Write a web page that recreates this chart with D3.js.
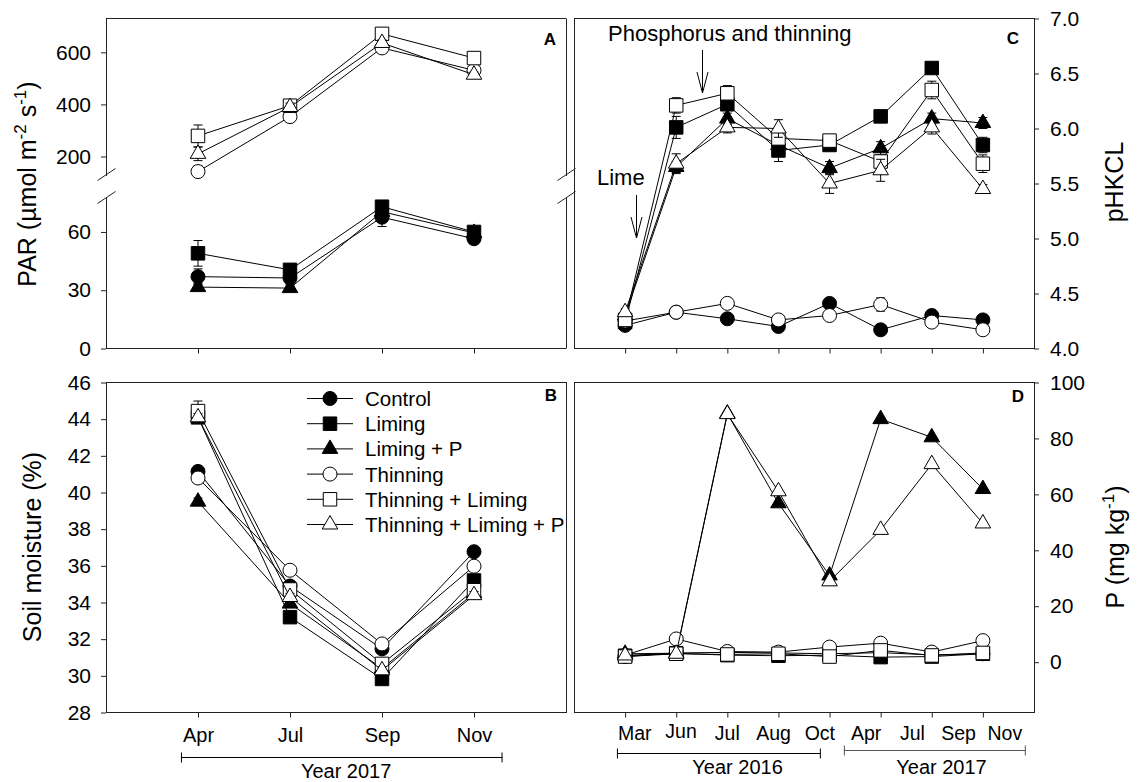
<!DOCTYPE html>
<html><head><meta charset="utf-8">
<script src="https://cdn.jsdelivr.net/npm/d3@7"></script>
<style>
body{margin:0;background:#fff;}
svg text{font-family:"Liberation Sans",Arial,Helvetica,sans-serif;fill:#000;}
</style></head><body>
<svg id="chart" width="1137" height="782"></svg>
<script>
// ---- Treatments (legend order = drawing order) ----
const treatments = ["Control", "Liming", "Liming + P", "Thinning", "Thinning + Liming", "Thinning + Liming + P"];

// ---- Panel A: PAR (µmol m-2 s-1), 2017 ----
const monthsAB = ["Apr", "Jul", "Sep", "Nov"];
const parControl   = [37, 36.3, 67.6, 56.5];
const parLiming    = [49, 40.5, 73, 60];
const parLimingP   = [31.6, 31.1, 70.4, 59.5];
const parThinning  = [142, 353, 617, 531];
const parThinLime  = [279, 395, 671, 578];
const parThinLimeP = [210, 390, 636, 514];
const parControlErr   = [4, 3, 4.8, 1.5];
const parLimingErr    = [6.6, 3, 2, 2];
const parLimingPErr   = [2, 1.5, 2, 3];
const parThinningErr  = [22, 12, 10, 8];
const parThinLimeErr  = [42, 15, 10, 8];
const parThinLimePErr = [26, 15, 12, 10];

// ---- Panel B: soil moisture (%), 2017 ----
const smControl   = [41.15, 34.9, 31.47, 36.77];
const smLiming    = [44.1, 33.2, 29.83, 35.2];
const smLimingP   = [39.5, 33.94, 30.4, 34.5];
const smThinning  = [40.79, 35.76, 31.74, 35.98];
const smThinLime  = [44.44, 34.71, 30.65, 34.67];
const smThinLimeP = [44.1, 34.3, 30.3, 34.4];
const smErr       = [0.2, 0.2, 0.2, 0.2];
const smThinLimeErr = [0.55, 0.2, 0.2, 0.2];

// ---- Panel C: soil pH(KCl), Mar 2016 - Nov 2017 ----
const phControl   = [4.21, 4.33, 4.27, 4.20, 4.41, 4.17, 4.30, 4.26];
const phLiming    = [4.24, 6.01, 6.22, 5.80, 5.85, 6.11, 6.55, 5.85];
const phLimingP   = [4.30, 5.65, 6.09, 5.85, 5.64, 5.82, 6.09, 6.05];
const phThinning  = [4.25, 4.33, 4.41, 4.26, 4.30, 4.40, 4.24, 4.17];
const phThinLime  = [4.26, 6.21, 6.32, 5.91, 5.89, 5.70, 6.35, 5.68];
const phThinLimeP = [4.33, 5.68, 6.01, 6.00, 5.50, 5.62, 6.01, 5.45];
const phControlErr   = [0.03, 0.02, 0.03, 0.04, 0.03, 0.02, 0.03, 0.03];
const phLimingErr    = [0.03, 0.10, 0.05, 0.10, 0.05, 0.04, 0.04, 0.07];
const phLimingPErr   = [0.03, 0.05, 0.05, 0.05, 0.06, 0.06, 0.05, 0.05];
const phThinningErr  = [0.03, 0.02, 0.03, 0.03, 0.03, 0.06, 0.03, 0.03];
const phThinLimeErr  = [0.04, 0.07, 0.07, 0.05, 0.04, 0.05, 0.08, 0.08];
const phThinLimePErr = [0.03, 0.09, 0.05, 0.08, 0.09, 0.10, 0.06, 0.04];

// ---- Panel D: available P (mg kg-1) ----
const pControl   = [2.0, 3.3, 3.5, 3.3, 3.0, 3.4, 2.6, 3.0];
const pLiming    = [2.3, 3.2, 2.5, 2.3, 2.5, 1.8, 2.0, 3.0];
const pLimingP   = [3.0, 3.2, 88.9, 56.8, 31.0, 86.9, 80.4, 61.9];
const pThinning  = [2.5, 8.3, 3.8, 3.6, 5.4, 6.8, 3.6, 7.7];
const pThinLime  = [2.0, 3.0, 2.75, 3.0, 2.0, 4.2, 2.4, 3.3];
const pThinLimeP = [2.4, 3.0, 88.7, 61.1, 28.9, 47.3, 70.8, 49.6];

// ---- Axis tick values and labels ----
const parTicksHigh = [200, 400, 600];
const parTicksLow  = [0, 30, 60];
const smTicks = [28, 30, 32, 34, 36, 38, 40, 42, 44, 46];
const phTicks = [4.0, 4.5, 5.0, 5.5, 6.0, 6.5, 7.0];
const pTicks  = [0, 20, 40, 60, 80, 100];
const monthsCD = ["Mar", "Jun", "Jul", "Aug", "Oct", "Apr", "Jul", "Sep", "Nov"];
const yearLabels = ["Year 2016", "Year 2017"];
const annotations = ["Phosphorus and thinning", "Lime"];

// ---- Marker styles ----
const shapes = [d3.symbolCircle, d3.symbolSquare, d3.symbolTriangle, d3.symbolCircle, d3.symbolSquare, d3.symbolTriangle];
const shapeSize = [154, 182, 105, 154, 182, 105];
const filled = [true, true, true, false, false, false];

const svg = d3.select("#chart");
const FONT_TICK = 21;

// Panel geometry
const xAB = d3.scaleLinear([0, 5], [106, 566]);
const xCD = d3.scaleLinear([0, 9], [574, 1034]);
const TOP = [18.5, 348.5], BOT = [382.5, 712.5];
const yAhigh = d3.scaleLinear([125, 730], [176, TOP[0]]).clamp(true);
const yAlow  = d3.scaleLinear([0, 78], [TOP[1], 197]).clamp(true);
const yB = d3.scaleLinear([28, 46], [BOT[1], BOT[0]]);
const yC = d3.scaleLinear([4, 7], [TOP[1], TOP[0]]);
const yD = d3.scaleLinear([-18, 100], [BOT[1], BOT[0]]);

function marker(sel, i) {
  sel.attr("d", d3.symbol(shapes[i], shapeSize[i])())
    .attr("fill", filled[i] ? "#000" : "#fff")
    .attr("stroke", "#000").attr("stroke-width", 1);
}

function drawSeries(g, x, y, values, errs, i) {
  const pts = values.map((v, k) => ({k: k + 1, v, e: errs ? errs[k] : 0}));
  const s = g.append("g");
  s.append("path").datum(pts)
    .attr("d", d3.line().x(d => x(d.k)).y(d => y(d.v)))
    .attr("fill", "none").attr("stroke", "#000").attr("stroke-width", 1);
  const eb = s.selectAll("g.err").data(pts.filter(d => d.e > 0)).join("g")
    .attr("stroke", "#000").attr("stroke-width", 1);
  eb.append("line").attr("x1", d => x(d.k)).attr("x2", d => x(d.k))
    .attr("y1", d => y(d.v - d.e)).attr("y2", d => y(d.v + d.e));
  eb.append("line").attr("x1", d => x(d.k) - 4.5).attr("x2", d => x(d.k) + 4.5)
    .attr("y1", d => y(d.v + d.e)).attr("y2", d => y(d.v + d.e));
  eb.append("line").attr("x1", d => x(d.k) - 4.5).attr("x2", d => x(d.k) + 4.5)
    .attr("y1", d => y(d.v - d.e)).attr("y2", d => y(d.v - d.e));
  s.selectAll("path.m").data(pts).join("path").attr("class", "m")
    .attr("transform", d => `translate(${x(d.k)},${y(d.v)})`)
    .call(marker, i);
}

function styleAxis(g, size) {
  g.select(".domain").remove();
  g.selectAll(".tick line").attr("stroke", "#222");
  g.selectAll(".tick text").attr("font-size", size)
    .attr("font-family", '"Liberation Sans",Arial,sans-serif').attr("fill", "#000");
}

function frame(x0, x1, y0, y1) {
  svg.append("rect").attr("x", x0 + 0.5).attr("y", y0).attr("width", x1 - x0).attr("height", y1 - y0)
    .attr("fill", "none").attr("stroke", "#222").attr("stroke-width", 1);
}

// ---------- Panel A (broken axis) ----------
{
  const x0 = 106, x1 = 566;
  const gA = svg.append("g");
  // frame with gaps at the break
  const fr = gA.append("g").attr("stroke", "#222").attr("fill", "none");
  fr.append("line").attr("x1", x0).attr("x2", x1).attr("y1", TOP[0]).attr("y2", TOP[0]);
  fr.append("line").attr("x1", x0).attr("x2", x1).attr("y1", TOP[1]).attr("y2", TOP[1]);
  [x0 + 0.5, x1 + 0.5].forEach(xx => {
    fr.append("line").attr("x1", xx).attr("x2", xx).attr("y1", TOP[0]).attr("y2", 176);
    fr.append("line").attr("x1", xx).attr("x2", xx).attr("y1", 197).attr("y2", TOP[1]);
    [174.5, 197.5].forEach(yy => {
      fr.append("line").attr("x1", xx - 9).attr("y1", yy + 6).attr("x2", xx + 9).attr("y2", yy - 6);
    });
  });
  gA.append("g").attr("transform", `translate(${x0},0)`)
    .call(d3.axisLeft(yAhigh).tickValues(parTicksHigh).tickSize(5).tickPadding(10))
    .call(styleAxis, FONT_TICK);
  gA.append("g").attr("transform", `translate(${x0},0)`)
    .call(d3.axisLeft(yAlow).tickValues(parTicksLow).tickSize(5).tickPadding(10))
    .call(styleAxis, FONT_TICK);
  gA.append("g").attr("transform", `translate(0,${TOP[1]})`)
    .call(d3.axisBottom(xAB).tickValues([1, 2, 3, 4]).tickFormat("").tickSize(5))
    .call(styleAxis, FONT_TICK);

  const parSeries = [parControl, parLiming, parLimingP, parThinning, parThinLime, parThinLimeP];
  const parErrs = [parControlErr, parLimingErr, parLimingPErr, parThinningErr, parThinLimeErr, parThinLimePErr];
  parSeries.forEach((vals, i) => {
    const y = d3.min(vals) >= 125 ? yAhigh : yAlow;
    drawSeries(gA, xAB, y, vals, parErrs[i], i);
  });
  gA.append("text").attr("x", 550).attr("y", 45).attr("text-anchor", "middle")
    .attr("font-size", 17).attr("font-weight", "bold").text("A");
  const t = gA.append("text").attr("transform", "translate(36,184) rotate(-90)")
    .attr("text-anchor", "middle").attr("font-size", 25);
  t.append("tspan").text("PAR (µmol m");
  t.append("tspan").attr("font-size", 17).attr("dy", -10).text("-2");
  t.append("tspan").attr("dy", 10).text(" s");
  t.append("tspan").attr("font-size", 17).attr("dy", -10).text("-1");
  t.append("tspan").attr("dy", 10).text(")");
}

// ---------- Panel B ----------
{
  const gB = svg.append("g");
  frame(106, 566, BOT[0], BOT[1]);
  gB.append("g").attr("transform", "translate(106,0)")
    .call(d3.axisLeft(yB).tickValues(smTicks).tickSize(5).tickPadding(10))
    .call(styleAxis, FONT_TICK);
  gB.append("g").attr("transform", `translate(0,${BOT[1]})`)
    .call(d3.axisBottom(xAB).tickValues([1, 2, 3, 4]).tickFormat(k => monthsAB[k - 1]).tickSize(5).tickPadding(10))
    .call(styleAxis, 20);
  const smSeries = [smControl, smLiming, smLimingP, smThinning, smThinLime, smThinLimeP];
  smSeries.forEach((vals, i) => drawSeries(gB, xAB, yB, vals, i === 4 ? smThinLimeErr : smErr, i));
  gB.append("text").attr("x", 551).attr("y", 401).attr("text-anchor", "middle")
    .attr("font-size", 17).attr("font-weight", "bold").text("B");
  gB.append("text").attr("transform", "translate(41,547) rotate(-90)")
    .attr("text-anchor", "middle").attr("font-size", 25).text("Soil moisture (%)");

  // legend
  const lg = gB.append("g");
  treatments.forEach((name, i) => {
    const yy = 398.5 + i * 25.2;
    lg.append("line").attr("x1", 307).attr("x2", 353).attr("y1", yy).attr("y2", yy)
      .attr("stroke", "#000");
    lg.append("path").attr("transform", `translate(330,${yy})`).call(marker, i);
    lg.append("text").attr("x", 365).attr("y", yy + 7.5).attr("font-size", 20.5).text(name);
  });

  // year bracket
  const bx0 = xAB(0.815), bx1 = xAB(4.31), by = 757.5;
  const br = gB.append("g").attr("stroke", "#000");
  br.append("line").attr("x1", bx0).attr("x2", bx1).attr("y1", by).attr("y2", by);
  br.append("line").attr("x1", bx0 + 0.5).attr("x2", bx0 + 0.5).attr("y1", by - 5).attr("y2", by + 5);
  br.append("line").attr("x1", bx1 - 0.5).attr("x2", bx1 - 0.5).attr("y1", by - 5).attr("y2", by + 5);
  gB.append("text").attr("x", xAB(2.61)).attr("y", 778).attr("text-anchor", "middle")
    .attr("font-size", 20).text(yearLabels[1]);
}

// ---------- Panel C ----------
{
  const gC = svg.append("g");
  frame(574, 1034, TOP[0], TOP[1]);
  gC.append("g").attr("transform", "translate(1034,0)")
    .call(d3.axisRight(yC).tickValues(phTicks).tickFormat(d3.format(".1f")).tickSize(5).tickPadding(11))
    .call(styleAxis, FONT_TICK);
  gC.append("g").attr("transform", `translate(0,${TOP[1]})`)
    .call(d3.axisBottom(xCD).tickValues(d3.range(1, 9)).tickFormat("").tickSize(5))
    .call(styleAxis, FONT_TICK);
  const phSeries = [phControl, phLiming, phLimingP, phThinning, phThinLime, phThinLimeP];
  const phErrs = [phControlErr, phLimingErr, phLimingPErr, phThinningErr, phThinLimeErr, phThinLimePErr];
  phSeries.forEach((vals, i) => drawSeries(gC, xCD, yC, vals, phErrs[i], i));
  gC.append("text").attr("x", 1013).attr("y", 44).attr("text-anchor", "middle")
    .attr("font-size", 17).attr("font-weight", "bold").text("C");
  const t = gC.append("text").attr("transform", "translate(1123,182) rotate(-90)")
    .attr("text-anchor", "middle").attr("font-size", 25);
  t.append("tspan").text("pH");
  t.append("tspan").text("KCL");

  // treatment arrows
  function arrow(x, ya, yb) {
    const a = gC.append("g").attr("stroke", "#000").attr("fill", "none").attr("stroke-width", 1);
    a.append("line").attr("x1", x).attr("x2", x).attr("y1", ya).attr("y2", yb);
    a.append("path").attr("d", `M${x - 5.5},${yb - 21}L${x},${yb}L${x + 5.5},${yb - 21}`);
  }
  gC.append("text").attr("x", 608).attr("y", 41).attr("font-size", 22).text(annotations[0]);
  arrow(702.5, 50, 93);
  gC.append("text").attr("x", 597).attr("y", 185).attr("font-size", 22).text(annotations[1]);
  arrow(636.5, 195, 238);
}

// ---------- Panel D ----------
{
  const gD = svg.append("g");
  frame(574, 1034, BOT[0], BOT[1]);
  gD.append("g").attr("transform", "translate(1034,0)")
    .call(d3.axisRight(yD).tickValues(pTicks).tickSize(5).tickPadding(11))
    .call(styleAxis, FONT_TICK);
  gD.append("g").attr("transform", `translate(0,${BOT[1]})`)
    .call(d3.axisBottom(xCD).tickValues(d3.range(1, 9)).tickFormat("").tickSize(5))
    .call(styleAxis, FONT_TICK);
  const pSeries = [pControl, pLiming, pLimingP, pThinning, pThinLime, pThinLimeP];
  pSeries.forEach((vals, i) => drawSeries(gD, xCD, yD, vals, null, i));
  gD.append("text").attr("x", 1018).attr("y", 402).attr("text-anchor", "middle")
    .attr("font-size", 17).attr("font-weight", "bold").text("D");
  const t = gD.append("text").attr("transform", "translate(1124,547) rotate(-90)")
    .attr("text-anchor", "middle").attr("font-size", 25);
  t.append("tspan").text("P (mg kg");
  t.append("tspan").attr("font-size", 17).attr("dy", -10).text("-1");
  t.append("tspan").attr("dy", 10).text(")");

  // month labels spread evenly under the sampling dates
  const lab = d3.scalePoint(d3.range(monthsCD.length), [xCD(1.19), xCD(8.43)]);
  gD.selectAll("text.mon").data(monthsCD).join("text").attr("class", "mon")
    .attr("x", (d, k) => lab(k)).attr("y", (d, k) => d === "Jun" ? 738 : 740)
    .attr("text-anchor", "middle").attr("font-size", 19.5).text(d => d);

  // year brackets
  const spans = [[0.84, 4.83, 753.5, 3.2], [5.28, 8.84, 750.5, 7.19]];
  spans.forEach(([a, b, yy, c], k) => {
    const xa = xCD(a), xb = xCD(b);
    const br = gD.append("g").attr("stroke", k === 0 ? "#000" : "#555");
    br.append("line").attr("x1", xa).attr("x2", xb).attr("y1", yy).attr("y2", yy);
    br.append("line").attr("x1", xa + 0.5).attr("x2", xa + 0.5).attr("y1", yy - 5).attr("y2", yy + 5);
    br.append("line").attr("x1", xb - 0.5).attr("x2", xb - 0.5).attr("y1", yy - 5).attr("y2", yy + 5);
    gD.append("text").attr("x", xCD(c)).attr("y", 774).attr("text-anchor", "middle")
      .attr("font-size", 20).text(yearLabels[k]);
  });
}
</script>
</body></html>
